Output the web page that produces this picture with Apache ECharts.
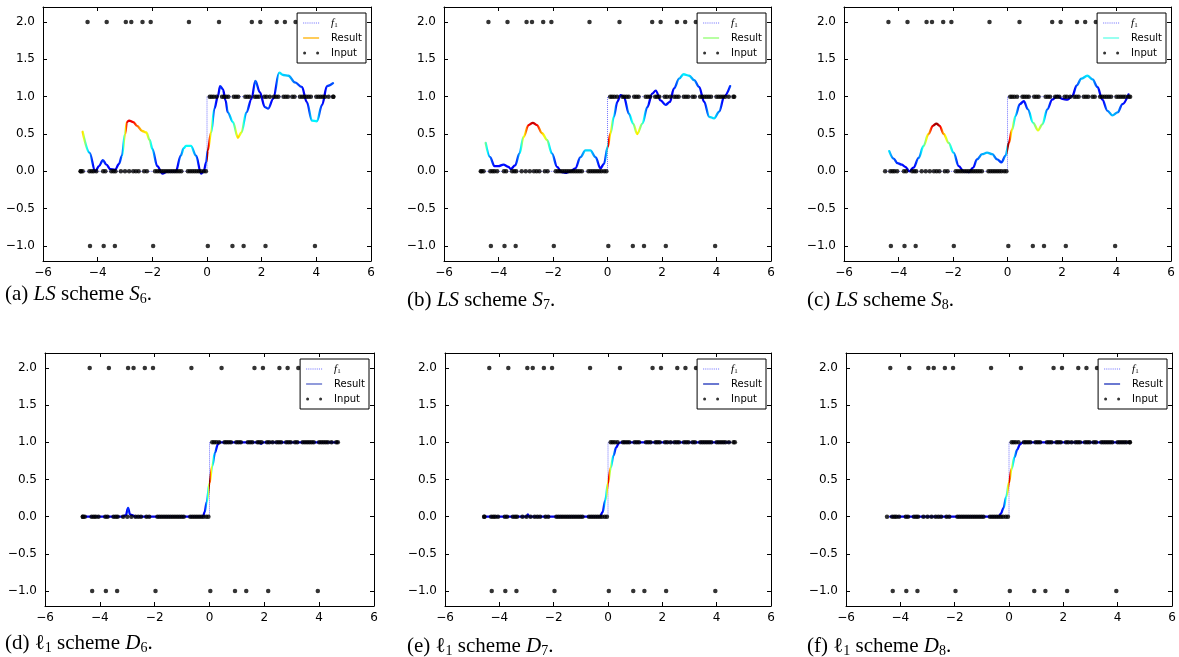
<!DOCTYPE html>
<html>
<head>
<meta charset="utf-8">
<script src="https://cdn.jsdelivr.net/npm/echarts@6/dist/echarts.min.js"></script>
<style>
  html, body { margin: 0; padding: 0; background: #fff; }
  #chart { width: 1179px; height: 657px; }
</style>
</head>
<body>
<div id="chart"></div>
<script>
// tick values
const xTicks = [-6, -4, -2, 0, 2, 4, 6];
const yTicks = [-1, -0.5, 0, 0.5, 1, 1.5, 2];

// input samples (same for every panel)
const outlierHighX = [-4.37, -3.67, -2.97, -2.77, -2.36, -2.06, -0.66, 0.44, 1.64, 1.95, 2.55, 2.85, 3.24];
const outlierLowX = [-4.28, -3.78, -3.37, -1.97, 0.03, 0.93, 1.34, 2.14, 3.95];
const inlierZeroX = [-4.62, -4.55, -4.3, -4.22, -4.15, -4.05, -3.8, -3.72, -3.5, -3.42, -3.35, -3.15,
  -3.0, -2.85, -2.7, -2.6, -2.5, -2.3, -2.2, -1.9, -1.82, -1.74, -1.66, -1.58, -1.5, -1.42, -1.34,
  -1.26, -1.18, -1.1, -1.02, -0.94, -0.7, -0.62, -0.54, -0.46, -0.38, -0.3, -0.22, -0.12, -0.04];
const inlierOneX = [0.1, 0.17, 0.25, 0.35, 0.55, 0.62, 0.7, 0.78, 0.98, 1.06, 1.14, 1.4, 1.48, 1.56,
  1.75, 1.82, 1.9, 2.1, 2.18, 2.3, 2.45, 2.53, 2.61, 2.8, 2.88, 2.96, 3.12, 3.2, 3.4, 3.48, 3.56,
  3.64, 3.72, 3.8, 4.0, 4.08, 4.16, 4.24, 4.32, 4.45, 4.62];

// x extent of the input in each panel
const inputRanges = [[-4.62, 4.62], [-4.65, 4.65], [-4.49, 4.5], [-4.62, 4.68], [-4.56, 4.67], [-4.49, 4.44]];

// results
const resultS6 = [[-4.55, 0.53], [-4.3, 0.25], [-4.09, 0.0], [-3.95, 0.07], [-3.81, 0.15], [-3.68, 0.09],
  [-3.54, 0.03], [-3.36, 0.02], [-3.22, 0.1], [-3.11, 0.21], [-3.0, 0.5], [-2.93, 0.66], [-2.85, 0.68],
  [-2.7, 0.66], [-2.56, 0.61], [-2.37, 0.54], [-2.22, 0.52], [-2.1, 0.42], [-2.0, 0.3], [-1.82, 0.07],
  [-1.63, -0.03], [-1.45, 0.0], [-1.14, 0.0], [-0.96, 0.21], [-0.85, 0.31], [-0.77, 0.34], [-0.59, 0.34],
  [-0.4, 0.21], [-0.22, -0.03], [-0.12, 0.0], [-0.03, 0.12], [0.03, 0.28], [0.15, 0.52], [0.27, 0.84],
  [0.4, 1.01], [0.48, 1.14], [0.58, 1.1], [0.68, 0.95], [0.76, 0.79], [0.95, 0.66], [1.13, 0.45],
  [1.26, 0.52], [1.44, 0.79], [1.63, 0.97], [1.77, 1.21], [1.93, 1.06], [2.12, 0.86], [2.24, 0.84],
  [2.42, 0.97], [2.64, 1.32], [2.79, 1.29], [2.98, 1.28], [3.22, 1.19], [3.47, 1.13], [3.65, 0.93],
  [3.84, 0.68], [4.02, 0.67], [4.21, 0.89], [4.39, 1.14], [4.61, 1.18]];
const resultS7 = [[-4.47, 0.38], [-4.31, 0.19], [-4.15, 0.07], [-4.0, 0.07], [-3.82, 0.09], [-3.63, 0.06],
  [-3.55, 0.03], [-3.39, 0.08], [-3.23, 0.24], [-3.08, 0.46], [-2.9, 0.62], [-2.74, 0.65], [-2.59, 0.62],
  [-2.4, 0.51], [-2.22, 0.42], [-2.04, 0.24], [-1.85, 0.06], [-1.69, -0.01], [-1.55, -0.02], [-1.36, 0.0],
  [-1.18, 0.04], [-0.99, 0.19], [-0.81, 0.28], [-0.63, 0.28], [-0.44, 0.19], [-0.26, 0.04], [-0.13, 0.1],
  [0.01, 0.33], [0.11, 0.51], [0.23, 0.73], [0.36, 0.93], [0.48, 1.02], [0.6, 1.0], [0.79, 0.77],
  [0.94, 0.64], [1.09, 0.5], [1.28, 0.64], [1.46, 0.86], [1.64, 1.04], [1.77, 1.08], [1.95, 0.95],
  [2.13, 0.89], [2.29, 0.93], [2.44, 1.11], [2.63, 1.24], [2.79, 1.3], [3.0, 1.28], [3.18, 1.22],
  [3.36, 1.13], [3.55, 0.93], [3.73, 0.73], [3.91, 0.71], [4.1, 0.8], [4.28, 1.0], [4.5, 1.14]];
const resultS8 = [[-4.34, 0.27], [-4.18, 0.17], [-4.04, 0.11], [-3.88, 0.09], [-3.75, 0.06], [-3.6, 0.0],
  [-3.45, 0.05], [-3.26, 0.18], [-3.08, 0.34], [-2.9, 0.5], [-2.74, 0.61], [-2.61, 0.64], [-2.49, 0.61],
  [-2.34, 0.5], [-2.16, 0.38], [-1.98, 0.25], [-1.79, 0.07], [-1.61, 0.0], [-1.42, -0.01], [-1.26, 0.05],
  [-1.12, 0.16], [-0.93, 0.23], [-0.75, 0.25], [-0.56, 0.23], [-0.38, 0.16], [-0.22, 0.12], [-0.07, 0.21],
  [0.05, 0.38], [0.17, 0.56], [0.29, 0.74], [0.45, 0.9], [0.6, 0.94], [0.75, 0.83], [0.94, 0.65],
  [1.12, 0.55], [1.28, 0.63], [1.46, 0.83], [1.64, 0.96], [1.83, 1.01], [2.01, 0.97], [2.2, 0.96],
  [2.38, 1.01], [2.54, 1.15], [2.71, 1.24], [2.93, 1.28], [3.12, 1.23], [3.3, 1.13], [3.48, 0.96],
  [3.67, 0.81], [3.85, 0.75], [4.04, 0.79], [4.22, 0.9], [4.44, 1.03]];
const resultD6 = [[-4.62, 0], [-3.2, 0], [-3.05, 0.02], [-2.97, 0.12], [-2.9, 0.03], [-2.82, 0.02],
  [-2.7, 0], [-0.24, 0], [-0.18, 0.06], [-0.1, 0.2], [0, 0.45], [0.1, 0.68], [0.2, 0.86], [0.3, 0.97],
  [0.36, 1], [1.8, 1], [1.88, 0.98], [1.96, 1], [4.68, 1]];
const resultD7 = [[-4.56, 0], [-3.0, 0], [-2.95, 0.03], [-2.9, 0], [-0.3, 0], [-0.2, 0.06], [-0.1, 0.22],
  [0, 0.45], [0.1, 0.66], [0.2, 0.82], [0.3, 0.93], [0.4, 0.99], [0.48, 1], [4.49, 1]];
const resultD8 = [[-4.37, 0], [-0.38, 0], [-0.3, 0.04], [-0.2, 0.12], [-0.1, 0.27], [0, 0.46], [0.1, 0.65],
  [0.2, 0.8], [0.3, 0.9], [0.4, 0.97], [0.5, 1], [4.44, 1]];

const results = [resultS6, resultS7, resultS8, resultD6, resultD7, resultD8];
const legendResultColors = ['#ffb000', '#90ff70', '#60ffe8', '#5565c8', '#1a2fb8', '#1a2fb8'];

const captionLetters = ['a', 'b', 'c', 'd', 'e', 'f'];
const captionSubs = ['6', '7', '8', '6', '7', '8'];

// layout (px)
const plotBoxes = [
  { left: 43, top: 7, width: 328, height: 254 },
  { left: 444, top: 7, width: 327, height: 254 },
  { left: 844, top: 7, width: 327, height: 254 },
  { left: 45, top: 353, width: 329, height: 253 },
  { left: 445, top: 353, width: 326, height: 253 },
  { left: 846, top: 353, width: 326, height: 253 }
];
const captionPos = [[5, 294], [407, 300], [807, 300], [5, 643], [407, 646], [807, 646]];

const f1 = x => (x < 0 ? 0 : 1);

function jet(t) {
  const c = v => Math.round(255 * Math.max(0, Math.min(1, v)));
  return 'rgb(' + c(1.5 - Math.abs(4 * t - 3)) + ',' + c(1.5 - Math.abs(4 * t - 2)) + ',' + c(1.5 - Math.abs(4 * t - 1)) + ')';
}
const errColor = (e, emax) => jet(0.1 + 0.88 * Math.pow(Math.min(1, e / emax), 1.5));

const minus = s => String(s).replace('-', '\u2212');

// dotted legend icon for f1
let dotted = 'path://';
for (let k = 0; k < 8; k++) dotted += 'M' + (2 * k) + ',0h1v1h-1z';

let myChart = echarts.init(document.getElementById('chart'));

const grid = [], xAxis = [], yAxis = [], series = [], legend = [], graphic = [];
const STOPS = 10;

plotBoxes.forEach((box, i) => {
  grid.push(Object.assign({ containLabel: false }, box));

  const axisLine = { show: true, onZero: false, lineStyle: { color: '#000', width: 1 } };
  const tick = { show: true, inside: true, length: 4, lineStyle: { color: '#000', width: 1 } };
  const label = { color: '#000', fontSize: 12, fontFamily: 'DejaVu Sans' };

  ['bottom', 'top'].forEach(pos => {
    xAxis.push({
      gridIndex: i, type: 'value', position: pos, min: -6, max: 6, interval: 2,
      axisLine: axisLine, axisTick: tick, splitLine: { show: false },
      axisLabel: Object.assign({ show: pos === 'bottom', margin: 6, formatter: v => minus(v) }, label)
    });
  });
  ['left', 'right'].forEach(pos => {
    yAxis.push({
      gridIndex: i, type: 'value', position: pos, min: -1.2, max: 2.2,
      axisLine: axisLine, splitLine: { show: false },
      axisTick: Object.assign({ customValues: yTicks }, tick),
      axisLabel: Object.assign({ show: pos === 'left', margin: 8, customValues: yTicks, formatter: v => minus(v.toFixed(1)) }, label)
    });
  });

  const range = inputRanges[i];
  const xi = 2 * i, yi = 2 * i;

  // f1
  series.push({
    name: 'f1', type: 'line', xAxisIndex: xi, yAxisIndex: yi, symbol: 'none', silent: true,
    color: '#7474ff', lineStyle: { color: '#7474ff', width: 1, type: 'dotted' },
    data: [[range[0], 0], [0, 0], [0, 1], [range[1], 1]], z: 2
  });

  // result; colour set after layout (gradient along x)
  series.push({
    id: 'res' + i, name: 'Result#' + i, type: 'line', xAxisIndex: xi, yAxisIndex: yi,
    symbol: 'none', silent: true, smooth: 0.35, smoothMonotone: 'x', color: legendResultColors[i],
    lineStyle: { width: 2.3, cap: 'round', join: 'round', color: legendResultColors[i] },
    data: results[i], z: 3
  });

  // input
  const input = [];
  inlierZeroX.filter(x => x >= range[0] - 0.01 && x <= range[1]).forEach(x => input.push([x, 0]));
  inlierOneX.filter(x => x <= range[1] + 0.01).forEach(x => input.push([x, 1]));
  input.push([range[0], 0], [range[1], 1]);
  outlierHighX.forEach(x => input.push([x, 2]));
  outlierLowX.forEach(x => input.push([x, -1]));
  series.push({
    name: 'Input', type: 'scatter', xAxisIndex: xi, yAxisIndex: yi, symbolSize: 4.5, silent: true,
    itemStyle: { color: '#000' }, data: input, z: 4
  });

  legend.push({
    orient: 'vertical', right: 1179 - (box.left + box.width - 5), top: box.top + 6,
    backgroundColor: '#fff', borderColor: '#000', borderWidth: 1, borderRadius: 0,
    padding: [4, 4, 4, 6], itemWidth: 16, itemHeight: 8, itemGap: 3, selectedMode: false, z: 10,
    textStyle: {
      fontFamily: 'DejaVu Sans', fontSize: 10, color: '#000', lineHeight: 12, padding: [0, 0, 0, 7],
      rich: {
        f: { fontFamily: 'Liberation Serif', fontStyle: 'italic', fontSize: 11, lineHeight: 12 },
        s: { fontFamily: 'Liberation Serif', fontSize: 7, lineHeight: 12, verticalAlign: 'bottom' }
      }
    },
    formatter: n => (n === 'f1' ? '{f|f}{s|1}' : n.split('#')[0]),
    data: [
      { name: 'f1', icon: dotted },
      { name: 'Result#' + i, icon: 'path://M0,0H16V1.3H0Z' },
      {
        name: 'Input',
        icon: 'path://M0,1.5a1.5,1.5 0 1 0 3,0a1.5,1.5 0 1 0 -3,0zM13,1.5a1.5,1.5 0 1 0 3,0a1.5,1.5 0 1 0 -3,0z'
      }
    ]
  });

  const top = i < 3;
  const text = '{n|(' + captionLetters[i] + ') }' +
    (top ? '{i|LS}{n| scheme }{i|S}' : '{n|\u2113}{sb|1}{n| scheme }{i|D}') +
    '{sb|' + captionSubs[i] + '}{n|.}';
  graphic.push({
    type: 'text', x: captionPos[i][0], y: captionPos[i][1],
    style: {
      text: text, fill: '#000', verticalAlign: 'middle',
      rich: {
        n: { fontFamily: 'Liberation Serif', fontSize: 21, lineHeight: 24, fill: '#000' },
        i: { fontFamily: 'Liberation Serif', fontStyle: 'italic', fontSize: 21, lineHeight: 24, fill: '#000' },
        sb: { fontFamily: 'Liberation Serif', fontSize: 14, lineHeight: 24, verticalAlign: 'bottom', fill: '#000' }
      }
    }
  });
});

myChart.setOption({
  animation: false,
  backgroundColor: '#fff',
  grid: grid,
  xAxis: xAxis,
  yAxis: yAxis,
  legend: legend,
  graphic: graphic,
  series: series
});

// colour each result curve by its error |r - f1|, as a gradient along x in pixel space
const colored = results.map((pts, i) => {
  const xi = 2 * i;
  const px0 = myChart.convertToPixel({ xAxisIndex: xi }, pts[0][0]);
  const px1 = myChart.convertToPixel({ xAxisIndex: xi }, pts[pts.length - 1][0]);
  const emax = Math.max(...pts.map(p => Math.abs(p[1] - f1(p[0]))));
  const stops = [];
  for (let k = 0; k < pts.length - 1; k++) {
    const a = pts[k], b = pts[k + 1];
    for (let s = 0; s <= STOPS; s++) {
      const u = s / STOPS;
      const x = a[0] + (b[0] - a[0]) * u, y = a[1] + (b[1] - a[1]) * u;
      const off = (myChart.convertToPixel({ xAxisIndex: xi }, x) - px0) / (px1 - px0);
      stops.push({ offset: Math.max(0, Math.min(1, off)), color: errColor(Math.abs(y - f1(x)), emax) });
    }
  }
  return {
    id: 'res' + i,
    lineStyle: { color: { type: 'linear', x: px0, y: 0, x2: px1, y2: 0, global: true, colorStops: stops } }
  };
});
myChart.setOption({ series: colored });

window.addEventListener('resize', myChart.resize);
</script>
</body>
</html>
